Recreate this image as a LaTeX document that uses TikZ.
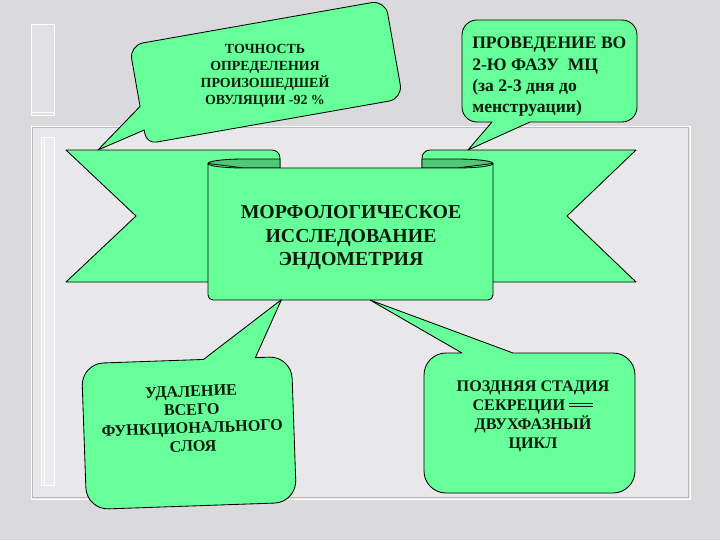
\documentclass[tikz,border=0pt]{standalone}
\usepackage{fontspec}
\setmainfont{Liberation Serif}
\definecolor{mint}{RGB}{102,255,153}
\definecolor{mintdark}{RGB}{80,200,120}
\definecolor{inkgreen}{RGB}{12,28,12}
\definecolor{marble}{RGB}{218,218,221}
\definecolor{marblelight}{RGB}{232,232,234}
\newcommand{\dbleq} % two bars after the word
{\mbox{\rlap{\rule[0.24em]{1.5em}{0.07em}}\rule[0.45em]{1.5em}{0.07em}}}

\begin{document}
\begin{tikzpicture}[x=0.025cm, y=-0.025cm,
	band/.style={fill=mint, draw=black, line width=0.6pt, line join=round},
	fold/.style={fill=mintdark, draw=black, line width=0.6pt, line join=round},
	balloon/.style={fill=mint, draw=black, line width=0.6pt, line join=round},
	frame/.style={draw=white, line width=0.6pt},
	boxtext/.style={text=inkgreen, align=center, inner sep=0pt}]
	% slide: 720 x 540 px, y downwards
	\useasboundingbox (0,0) rectangle (720,540);
	\fill[marble] (0,0) rectangle (720,540);
	% template frame
	\fill[marblelight] (31,126) rectangle (690,499);
	\draw[gray!55, line width=0.3pt] (32.5,127.5) rectangle (688.5,497.5);
	\draw[frame] (31,126) rectangle (690,499);
	\fill[white, opacity=0.2] (41,137) rectangle (54,485);
	\draw[frame] (41,137) rectangle (54,485);
	\draw[frame, line width=0.3pt] (44,137) -- (44,485);
	\fill[white, opacity=0.2] (31,24) rectangle (54,115);
	\draw[frame] (31,24) rectangle (54,115);
	\draw[frame, line width=0.3pt] (31,112) -- (54,112);

	% ribbon tails
	\filldraw[band] (66,150) -- (272,150) arc[start angle=270, end angle=360, radius=8]
		-- (280,282) -- (66,282) -- (136,216) -- cycle;
	\filldraw[band] (636,150) -- (430,150) arc[start angle=270, end angle=180, radius=8]
		-- (422,282) -- (636,282) -- (567,216) -- cycle;
	% folds
	\filldraw[fold] (208,163.5) arc[start angle=180, end angle=270, x radius=36, y radius=4.5]
		-- (280,159) -- (280,168) -- (244,168) -- cycle;
	\filldraw[fold] (493,163.5) arc[start angle=0, end angle=-90, x radius=36, y radius=4.5]
		-- (422,159) -- (422,168) -- (457,168) -- cycle;
	% front panel
	\filldraw[band] (208,163.5) arc[start angle=180, end angle=90, x radius=36, y radius=4.5]
		-- (457,168) arc[start angle=90, end angle=0, x radius=36, y radius=4.5]
		-- (493,295) arc[start angle=0, end angle=90, radius=5]
		-- (213,300) arc[start angle=90, end angle=180, radius=5] -- cycle;
	\node[boxtext, font=\fontsize{14.1}{16.9}\selectfont\bfseries, anchor=north] (endo) at (351,205)
		{МОРФОЛОГИЧЕСКОЕ\\ИССЛЕДОВАНИЕ\\ЭНДОМЕТРИЯ};

	% top left balloon, tilted
	\begin{scope}[shift={(266,72)}, rotate=10]
		\filldraw[balloon] (-116,-50) -- (116,-50) arc[start angle=270, end angle=360, radius=14]
			-- (130,36) arc[start angle=0, end angle=90, radius=14]
			-- (-120,50) arc[start angle=90, end angle=180, radius=10]
			-- (-130,36) -- (-179,47.6) -- (-130,12)
			-- (-130,-36) arc[start angle=180, end angle=270, radius=14] -- cycle;
	\end{scope}
	\node[boxtext, font=\fontsize{9.9}{12}\selectfont\bfseries, anchor=north] (accuracy) at (265,44)
		{ТОЧНОСТЬ\\ОПРЕДЕЛЕНИЯ\\ПРОИЗОШЕДШЕЙ\\ОВУЛЯЦИИ -92 \%};

	% top right balloon
	\filldraw[balloon] (477,20) -- (622,20) arc[start angle=270, end angle=360, radius=15]
		-- (637,107) arc[start angle=0, end angle=90, radius=15]
		-- (530,122) -- (468,150) -- (492,122)
		-- (477,122) arc[start angle=90, end angle=180, radius=15]
		-- (462,35) arc[start angle=180, end angle=270, radius=15] -- cycle;
	\node[boxtext, font=\fontsize{12.5}{15}\selectfont\bfseries, align=left, anchor=north west] (timing) at (472,37)
		{ПРОВЕДЕНИЕ ВО\\2-Ю ФАЗУ\ \ МЦ\\(за 2-3 дня до\\менструации)};

	% bottom left balloon, tilted a little
	\begin{scope}[shift={(189,433)}, rotate=2]
		\filldraw[balloon] (-83,-73) -- (17,-73) -- (97,-130) -- (69,-73)
			-- (83,-73) arc[start angle=270, end angle=360, radius=22]
			-- (105,51) arc[start angle=0, end angle=90, radius=22]
			-- (-83,73) arc[start angle=90, end angle=180, radius=22]
			-- (-105,-51) arc[start angle=180, end angle=270, radius=22] -- cycle;
		\node[boxtext, font=\fontsize{11.5}{13}\selectfont\bfseries, rotate=2] (removal) at (3.5,-14)
			{УДАЛЕНИЕ\\ВСЕГО\\ФУНКЦИОНАЛЬНОГО\\СЛОЯ};
	\end{scope}

	% bottom right balloon
	\filldraw[balloon] (446,353) -- (462,353) -- (370,300) -- (513,353)
		-- (613,353) arc[start angle=270, end angle=360, radius=22]
		-- (635,471) arc[start angle=0, end angle=90, radius=22]
		-- (446,493) arc[start angle=90, end angle=180, radius=22]
		-- (424,375) arc[start angle=180, end angle=270, radius=22] -- cycle;
	\node[boxtext, font=\fontsize{11.5}{13.5}\selectfont\bfseries, anchor=north] (secretion) at (533,381)
		{ПОЗДНЯЯ СТАДИЯ\\СЕКРЕЦИИ \dbleq\\ДВУХФАЗНЫЙ\\ЦИКЛ};
\end{tikzpicture}
\end{document}
